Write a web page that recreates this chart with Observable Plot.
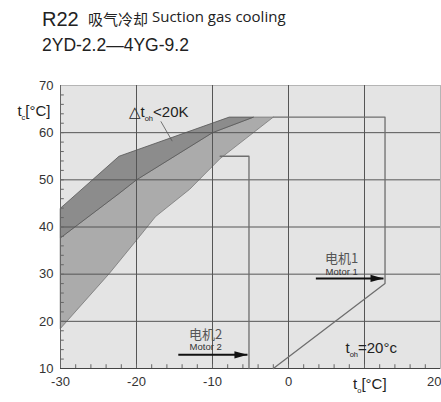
<!DOCTYPE html>
<html><head><meta charset="utf-8">
<script src="https://cdn.jsdelivr.net/npm/d3@7"></script>
<script src="https://cdn.jsdelivr.net/npm/@observablehq/plot@0.6"></script>
<style>
body{margin:0;background:#fff;width:441px;height:402px;overflow:hidden;position:relative;font-family:"Liberation Sans",Arial,sans-serif;color:#222;}
.tt{position:absolute;white-space:nowrap;line-height:1;}
#r22{left:42px;top:9px;font-size:20px;}
#cn{left:88px;top:11px;font-size:15px;font-family:"Noto Sans CJK SC",sans-serif;}
#en{left:152px;top:9px;font-size:15px;font-family:"Open Sans","Noto Sans",sans-serif;}
#t2{left:42px;top:37px;font-size:17.5px;}
#chart{position:absolute;left:0;top:60px;}
</style></head><body>
<div class="tt" id="r22">R22</div>
<div class="tt" id="cn">吸气冷却</div>
<div class="tt" id="en">Suction gas cooling</div>
<div class="tt" id="t2">2YD-2.2—4YG-9.2</div>
<div id="chart"></div>
<script>
// axes
const xTickLabels = [-30, -20, -10, 0];
const xLastTick = [20];
const yTicks = [10, 20, 30, 40, 50, 60, 70];
const xGrid = [-20, -10, 0, 10];
const yGrid = [20, 30, 40, 50, 60];
const xMinor = d3.range(-28, 20, 2);
const yMinor = d3.range(12, 70, 2);

// envelope boundaries (to, tc)
const upperX = [-30, -22.3, -7.8];
const upperY = [44, 55, 63.3];
const midX = [-30, -22.3, -20, -10, -4.6];
const midY = [37.7, 47.1, 50, 60, 63.3];
const lowX = [-30, -23.6, -20, -17.5, -13, -9, -2];
const lowY = [18.5, 30.1, 37.2, 42.2, 48, 54.5, 63.3];

// motor limits
const motor1X = [-2, 12.7, 12.7, -2];
const motor1Y = [63.3, 63.3, 28, 10];
const motor2X = [-9, -5.2, -5.2];
const motor2Y = [55, 55, 10];

// arrows
const arrows = [
  {x1: 3.6, x2: 12.5, y: 29.1},
  {x1: -14.5, x2: -5.4, y: 12.9}
];

// labels
const labels = [
  {x: -21.05, y: 64.3, text: "△t{oh}<20K", size: 15, anchor: "start", fill: "#222", font: "Liberation Sans"},
  {x: 7.5, y: 14.4, text: "t{oh}=20°c", size: 15, anchor: "start", fill: "#222", font: "Liberation Sans"},
  {x: 7.0, y: 33.2, text: "电机1", size: 13, anchor: "middle", fill: "#555", font: "Noto Sans CJK SC"},
  {x: 7.0, y: 30.4, text: "Motor 1", size: 9.5, anchor: "middle", fill: "#333", font: "Liberation Sans"},
  {x: -10.9, y: 17.2, text: "电机2", size: 13, anchor: "middle", fill: "#555", font: "Noto Sans CJK SC"},
  {x: -10.9, y: 14.5, text: "Motor 2", size: 9.5, anchor: "middle", fill: "#333", font: "Liberation Sans"}
];

const zip = (xs, ys) => xs.map((x, i) => ({x, y: ys[i]}));
const upper = zip(upperX, upperY);
const mid = zip(midX, midY);
const low = zip(lowX, lowY);
const darkPoly = [...upper, ...mid.slice().reverse()];
const medPoly = [...mid, ...low.slice().reverse()];

const arrowHead = {
  draw(ctx, size) {
    const r = Math.sqrt(size / Math.PI);
    ctx.moveTo(r, 0);
    ctx.lineTo(-r, -r * 0.55);
    ctx.lineTo(-r, r * 0.55);
    ctx.closePath();
  }
};

const chart = Plot.plot({
  width: 441,
  height: 342,
  marginLeft: 60,
  marginRight: 1,
  marginTop: 25,
  marginBottom: 34,
  style: {fontFamily: "Liberation Sans, Arial, sans-serif", fontSize: "13px", color: "#333", overflow: "visible"},
  x: {domain: [-30, 20], axis: null},
  y: {domain: [10, 70], ticks: yTicks, tickSize: 0, tickPadding: 7, tickFormat: d => String(d), label: null},
  marks: [
    Plot.frame({fill: "#e4e4e4", stroke: "#b5b5b5"}),
    Plot.line(medPoly, {x: "x", y: "y", fill: "#ababab", stroke: "#777", strokeWidth: 0.8, curve: "linear-closed"}),
    Plot.line(darkPoly, {x: "x", y: "y", fill: "#8c8c8c", stroke: "#555", strokeWidth: 0.8, curve: "linear-closed"}),
    Plot.ruleX(xGrid, {stroke: "#555", strokeWidth: 1}),
    Plot.ruleY(yGrid, {stroke: "#555", strokeWidth: 1}),
    Plot.ruleX([-30], {stroke: "#666", strokeWidth: 1}),
    Plot.ruleY([10], {stroke: "#444", strokeWidth: 1}),
    Plot.ruleX(xMinor, {y1: 10, y2: 10.8, stroke: "#666"}),
    Plot.ruleY(yMinor, {x1: -30, x2: -29.5, stroke: "#666"}),
    Plot.line(zip(motor1X, motor1Y), {x: "x", y: "y", stroke: "#6e6e6e", strokeWidth: 1.3}),
    Plot.line(zip(motor2X, motor2Y), {x: "x", y: "y", stroke: "#6e6e6e", strokeWidth: 1.3}),
    Plot.link([{x1: -16.8, y1: 62.4, x2: -15.3, y2: 58.2}], {x1: "x1", y1: "y1", x2: "x2", y2: "y2", stroke: "#555", strokeWidth: 0.8}),
    Plot.link(arrows, {x1: "x1", x2: "x2", y1: "y", y2: "y", stroke: "#111", strokeWidth: 2}),
    Plot.dot(arrows, {x: "x2", y: "y", symbol: arrowHead, r: 6.5, dx: -6.5, fill: "#111", stroke: null}),
    Plot.text(xTickLabels, {x: d => d, y: 10, dy: 13, text: d => String(d), fontSize: 13, fill: "#333"}),
    Plot.text(xLastTick, {x: d => d, y: 10, dy: 13, dx: 1, text: d => String(d), textAnchor: "end", fontSize: 13, fill: "#333"}),
    ...labels.map(l => Plot.text([l], {x: "x", y: "y", text: "text", fontSize: l.size, textAnchor: l.anchor, fill: l.fill, fontFamily: l.font})),
    Plot.text(["t{c}[°C]"], {x: -30, y: 64.6, dx: -10, textAnchor: "end", fontSize: 15, fill: "#222", fontFamily: "Liberation Sans"}),
    Plot.text(["t{o}[°C]"], {x: 10.7, y: 10, dy: 16, textAnchor: "middle", fontSize: 15, fill: "#222", fontFamily: "Liberation Sans"})
  ]
});

// turn {..} into subscripts
d3.select(chart).selectAll("text").each(function () {
  const t = this.textContent;
  if (!t.includes("{")) return;
  const parts = t.split(/(\{[^}]*\})/).filter(p => p);
  const el = d3.select(this);
  el.text(null);
  let wasSub = false;
  for (const p of parts) {
    if (p.startsWith("{")) {
      el.append("tspan").attr("font-size", "0.5em").attr("dy", 4).text(p.slice(1, -1));
      wasSub = true;
    } else {
      const ts = el.append("tspan").text(p);
      if (wasSub) { ts.attr("dy", -4); wasSub = false; }
    }
  }
});

document.getElementById("chart").append(chart);
</script>
</body></html>
